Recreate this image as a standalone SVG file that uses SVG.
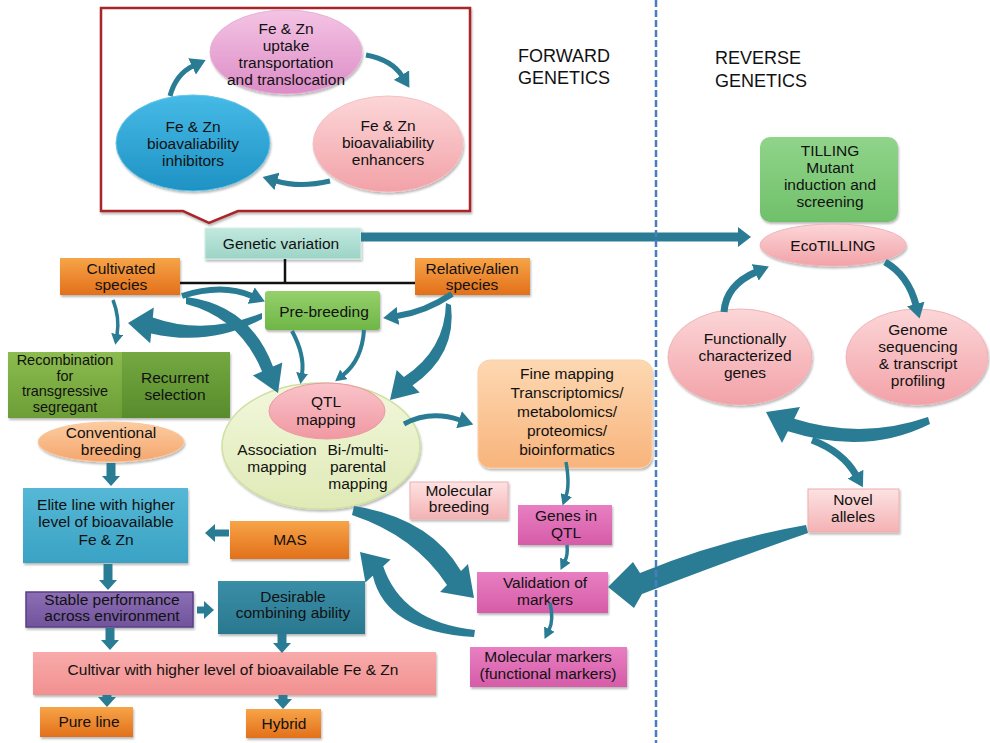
<svg xmlns="http://www.w3.org/2000/svg" width="990" height="743" viewBox="0 0 990 743">
<defs>
<style>
text{font-family:"Liberation Sans",Arial,Helvetica,sans-serif;font-size:15.5px;fill:#111;text-anchor:middle}
.hdr{font-size:18px;text-anchor:start}
.sm{font-size:14.5px}
.ar{fill:none;stroke:#2a7c94}
.af{fill:#2a7c94}
.blk{fill:none;stroke:#111;stroke-width:2.5}
.sh{filter:url(#sh)}
</style>
<filter id="sh" x="-10%" y="-10%" width="130%" height="140%"><feDropShadow dx="1" dy="2" stdDeviation="1.2" flood-color="#000" flood-opacity="0.28"/></filter>
<linearGradient id="gOr" x1="0" y1="0" x2="0" y2="1"><stop offset="0" stop-color="#f7a448"/><stop offset="1" stop-color="#e2701a"/></linearGradient>
<linearGradient id="gPre" x1="0" y1="0" x2="0" y2="1"><stop offset="0" stop-color="#96d06c"/><stop offset="1" stop-color="#6eb646"/></linearGradient>
<linearGradient id="gRecL" x1="0" y1="0" x2="0" y2="1"><stop offset="0" stop-color="#8cbc50"/><stop offset="1" stop-color="#6c9e36"/></linearGradient>
<linearGradient id="gRecR" x1="0" y1="0" x2="0" y2="1"><stop offset="0" stop-color="#74a840"/><stop offset="1" stop-color="#588c2c"/></linearGradient>
<linearGradient id="gFine" x1="0" y1="0" x2="0" y2="1"><stop offset="0" stop-color="#fdd8b2"/><stop offset="1" stop-color="#f8b47c"/></linearGradient>
<linearGradient id="gMag" x1="0" y1="0" x2="0" y2="1"><stop offset="0" stop-color="#e87fc2"/><stop offset="1" stop-color="#d65ca8"/></linearGradient>
<linearGradient id="gElite" x1="0" y1="0" x2="0" y2="1"><stop offset="0" stop-color="#56b8d6"/><stop offset="1" stop-color="#3aa2c4"/></linearGradient>
<linearGradient id="gStab" x1="0" y1="0" x2="0" y2="1"><stop offset="0" stop-color="#8c6eb4"/><stop offset="1" stop-color="#70549c"/></linearGradient>
<linearGradient id="gDes" x1="0" y1="0" x2="0" y2="1"><stop offset="0" stop-color="#3a8ea6"/><stop offset="1" stop-color="#2a7890"/></linearGradient>
<linearGradient id="gCult" x1="0" y1="0" x2="0" y2="1"><stop offset="0" stop-color="#f8aaaa"/><stop offset="1" stop-color="#f29090"/></linearGradient>
<linearGradient id="gTill" x1="0" y1="0" x2="0" y2="1"><stop offset="0" stop-color="#90d48a"/><stop offset="1" stop-color="#70c06a"/></linearGradient>
<linearGradient id="gPink" x1="0" y1="0" x2="0" y2="1"><stop offset="0" stop-color="#fcd6d8"/><stop offset="1" stop-color="#f2a2a8"/></linearGradient>
<linearGradient id="gTopPink" x1="0" y1="0" x2="0" y2="1"><stop offset="0" stop-color="#f4c4e4"/><stop offset="1" stop-color="#dc8cc6"/></linearGradient>
<linearGradient id="gBlue" x1="0" y1="0" x2="0" y2="1"><stop offset="0" stop-color="#46bae6"/><stop offset="1" stop-color="#1e92c4"/></linearGradient>
<linearGradient id="gConv" x1="0" y1="0" x2="0" y2="1"><stop offset="0" stop-color="#fccca0"/><stop offset="1" stop-color="#f4a66e"/></linearGradient>
<linearGradient id="gBig" x1="0" y1="0" x2="0" y2="1"><stop offset="0" stop-color="#f2f7dc"/><stop offset="1" stop-color="#dfeab6"/></linearGradient>
<linearGradient id="gQtl" x1="0" y1="0" x2="0" y2="1"><stop offset="0" stop-color="#fac4ca"/><stop offset="1" stop-color="#f098a2"/></linearGradient>
<linearGradient id="gLtPink" x1="0" y1="0" x2="0" y2="1"><stop offset="0" stop-color="#fde2e2"/><stop offset="1" stop-color="#f4b2b4"/></linearGradient>
<linearGradient id="gGen" x1="0" y1="0" x2="0" y2="1"><stop offset="0" stop-color="#c2e8de"/><stop offset="1" stop-color="#9cd4c6"/></linearGradient>
<marker id="aS" markerUnits="userSpaceOnUse" markerWidth="12" markerHeight="12" refX="1" refY="6" orient="auto"><path d="M0,0 L11,6 L0,12 z" fill="#2a7c94"/></marker>
<marker id="aM" markerUnits="userSpaceOnUse" markerWidth="16" markerHeight="18" refX="1" refY="9" orient="auto"><path d="M0,0 L15,9 L0,18 z" fill="#2a7c94"/></marker>
<marker id="aL" markerUnits="userSpaceOnUse" markerWidth="14" markerHeight="20" refX="1" refY="10" orient="auto"><path d="M0,0 L13,10 L0,20 z" fill="#2a7c94"/></marker>
<marker id="aB" markerUnits="userSpaceOnUse" markerWidth="11" markerHeight="20" refX="1" refY="10" orient="auto"><path d="M0,1 L10,10 L0,19 z" fill="#2a7c94"/></marker>
</defs>
<rect width="990" height="743" fill="#fff"/>

<g id="headers">
<text class="hdr" x="518" y="62">FORWARD</text>
<text class="hdr" x="518" y="84">GENETICS</text>
<text class="hdr" x="715" y="64">REVERSE</text>
<text class="hdr" x="715" y="87">GENETICS</text>
</g>

<g id="nutrient-box">
<path class="sh" d="M101,8 H470 V211 H238 L209,223 L183,211 H101 Z" fill="#fff" stroke="#a8272b" stroke-width="2.5"/>
</g>
<g id="uptake">
<ellipse class="sh" cx="286" cy="52" rx="76" ry="42" fill="url(#gTopPink)" stroke="#e6b0d6" stroke-width="1"/>
<text x="286" y="34">Fe &amp; Zn</text>
<text x="286" y="51">uptake</text>
<text x="286" y="68">transportation</text>
<text x="286" y="85">and translocation</text>
</g>
<g id="inhibitors">
<ellipse class="sh" cx="193" cy="143" rx="77" ry="48" fill="url(#gBlue)" stroke="#62c4e8" stroke-width="1"/>
<text x="193" y="132">Fe &amp; Zn</text>
<text x="193" y="149">bioavaliability</text>
<text x="193" y="166">inhibitors</text>
</g>
<g id="enhancers">
<ellipse class="sh" cx="388" cy="144" rx="75" ry="48" fill="url(#gPink)" stroke="#f4c0c0" stroke-width="1"/>
<text x="388" y="131">Fe &amp; Zn</text>
<text x="388" y="148">bioavaliability</text>
<text x="388" y="165">enhancers</text>
</g>

<g id="genetic-variation">
<rect class="sh" x="205" y="228" width="156" height="31" fill="url(#gGen)" stroke="#d4eee8" stroke-width="1"/>
<text x="281" y="249">Genetic variation</text>
</g>
<g id="cultivated">
<rect class="sh" x="60" y="258" width="120" height="37" fill="url(#gOr)"/>
<text x="121" y="274">Cultivated</text>
<text x="121" y="290">species</text>
</g>
<g id="relative">
<rect class="sh" x="415" y="258" width="115" height="37" fill="url(#gOr)"/>
<text x="472" y="274">Relative/alien</text>
<text x="472" y="290">species</text>
</g>
<g id="pre-breeding">
<rect class="sh" x="265" y="291" width="115" height="39" rx="3" fill="url(#gPre)"/>
<text x="324" y="317">Pre-breeding</text>
</g>
<g id="recombination">
<rect class="sh" x="8" y="352" width="114" height="66" fill="url(#gRecL)"/>
<text class="sm" x="65" y="365">Recombination</text>
<text class="sm" x="65" y="380.5">for</text>
<text class="sm" x="65" y="396">transgressive</text>
<text class="sm" x="65" y="411.5">segregant</text>
</g>
<g id="recurrent">
<rect class="sh" x="122" y="352" width="108" height="66" fill="url(#gRecR)"/>
<text x="175" y="383">Recurrent</text>
<text x="175" y="400">selection</text>
</g>
<g id="conventional">
<ellipse class="sh" cx="111" cy="442" rx="73" ry="20" fill="url(#gConv)" stroke="#f8c8a0" stroke-width="1"/>
<text x="111" y="438">Conventional</text>
<text x="111" y="455">breeding</text>
</g>
<g id="qtl-group">
<ellipse class="sh" cx="321" cy="446" rx="99" ry="63" fill="url(#gBig)" stroke="#cfe0a2" stroke-width="1.5"/>
<text x="277" y="455">Association</text>
<text x="277" y="472">mapping</text>
<text x="358" y="455">Bi-/multi-</text>
<text x="358" y="472">parental</text>
<text x="358" y="489">mapping</text>
</g>
<g id="qtl-mapping">
<ellipse cx="327" cy="411" rx="58" ry="28" fill="url(#gQtl)" stroke="#ec9aa2" stroke-width="1"/>
<text x="326" y="407">QTL</text>
<text x="326" y="425">mapping</text>
</g>
<g id="fine-mapping">
<rect class="sh" x="478" y="360" width="174" height="108" rx="12" fill="url(#gFine)" stroke="#fbd0a8" stroke-width="1"/>
<text x="567" y="379">Fine mapping</text>
<text x="567" y="398">Transcriptomics/</text>
<text x="567" y="417">metabolomics/</text>
<text x="567" y="436">proteomics/</text>
<text x="567" y="455">bioinformatics</text>
</g>
<g id="molecular-breeding">
<rect class="sh" x="410" y="482" width="98" height="37" fill="url(#gLtPink)" stroke="#eeb0b0" stroke-width="1"/>
<text x="459" y="496">Molecular</text>
<text x="459" y="512">breeding</text>
</g>
<g id="genes-in-qtl">
<rect class="sh" x="518" y="505" width="94" height="40" fill="url(#gMag)"/>
<text x="566" y="521">Genes in</text>
<text x="566" y="538">QTL</text>
</g>
<g id="validation">
<rect class="sh" x="477" y="572" width="131" height="41" fill="url(#gMag)"/>
<text x="545" y="588">Validation of</text>
<text x="545" y="605">markers</text>
</g>
<g id="molecular-markers">
<rect class="sh" x="470" y="647" width="157" height="40" fill="url(#gMag)"/>
<text x="548" y="662">Molecular markers</text>
<text x="548" y="679">(functional markers)</text>
</g>
<g id="elite">
<rect class="sh" x="23" y="488" width="165" height="75" fill="url(#gElite)"/>
<text x="106" y="510">Elite line with higher</text>
<text x="106" y="527">level of bioavailable</text>
<text x="106" y="545">Fe &amp; Zn</text>
</g>
<g id="mas">
<rect class="sh" x="230" y="521" width="119" height="38" fill="url(#gOr)"/>
<text x="290" y="545">MAS</text>
</g>
<g id="stable">
<rect class="sh" x="26" y="592" width="167" height="35" fill="url(#gStab)" stroke="#5a3f86" stroke-width="1.5"/>
<text x="112" y="605">Stable performance</text>
<text x="112" y="621">across environment</text>
</g>
<g id="desirable">
<rect class="sh" x="218" y="581" width="147" height="53" fill="url(#gDes)"/>
<text x="293" y="602">Desirable</text>
<text x="293" y="618">combining ability</text>
</g>
<g id="cultivar">
<rect class="sh" x="33" y="652" width="403" height="43" fill="url(#gCult)"/>
<text x="233" y="675">Cultivar with higher level of bioavailable Fe &amp; Zn</text>
</g>
<g id="pure-line">
<rect class="sh" x="40" y="707" width="93" height="30" fill="url(#gOr)"/>
<text x="89" y="727">Pure line</text>
</g>
<g id="hybrid">
<rect class="sh" x="246" y="709" width="75" height="29" fill="url(#gOr)"/>
<text x="284" y="729">Hybrid</text>
</g>

<g id="tilling">
<rect class="sh" x="760" y="137" width="138" height="85" rx="10" fill="url(#gTill)"/>
<text x="830" y="156">TILLING</text>
<text x="830" y="173">Mutant</text>
<text x="830" y="190">induction and</text>
<text x="830" y="207">screening</text>
</g>
<g id="ecotilling">
<ellipse class="sh" cx="833" cy="245" rx="73" ry="21" fill="url(#gPink)" stroke="#f0b4b8" stroke-width="1"/>
<text x="833" y="251">EcoTILLING</text>
</g>
<g id="functionally">
<ellipse class="sh" cx="740" cy="357" rx="72" ry="48" fill="url(#gPink)" stroke="#f0b4b8" stroke-width="1"/>
<text x="745" y="344">Functionally</text>
<text x="745" y="361">characterized</text>
<text x="745" y="378">genes</text>
</g>
<g id="genome">
<ellipse class="sh" cx="917" cy="357" rx="71" ry="48" fill="url(#gPink)" stroke="#f0b4b8" stroke-width="1"/>
<text x="918" y="335">Genome</text>
<text x="918" y="352">sequencing</text>
<text x="918" y="369">&amp; transcript</text>
<text x="918" y="386">profiling</text>
</g>
<g id="novel-alleles">
<rect class="sh" x="808" y="489" width="91" height="43" fill="url(#gLtPink)" stroke="#eeb0b0" stroke-width="1"/>
<text x="853" y="505">Novel</text>
<text x="853" y="522">alleles</text>
</g>

<g id="connectors">
<path class="ar" stroke-width="5" d="M170,96 Q176,74 193,66" marker-end="url(#aM)"/>
<path class="ar" stroke-width="5" d="M366,55 Q392,60 402,76" marker-end="url(#aM)"/>
<path class="ar" stroke-width="5" d="M330,181 Q300,188 276,181" marker-end="url(#aM)"/>
<path class="ar" stroke-width="9" d="M361,237 H739" marker-end="url(#aL)"/>
<path class="blk" d="M180,283 H415 M285,259 V283"/>
<path class="ar" stroke-width="3.5" d="M113,300 Q120,318 117,335" marker-end="url(#aS)"/>
<path class="ar" stroke-width="6" d="M182,296 Q222,283 252,296" marker-end="url(#aM)"/>
<path class="ar" stroke-width="4" d="M292,331 Q305,355 302,374" marker-end="url(#aS)"/>
<path class="ar" stroke-width="4" d="M364,330 Q362,360 343,375" marker-end="url(#aS)"/>
<path class="ar" stroke-width="6" d="M452,294 Q425,312 397,316" marker-end="url(#aM)"/>
<path class="ar" stroke-width="5" d="M404,424 Q430,410 460,420" marker-end="url(#aM)"/>
<path class="ar" stroke-width="3.5" d="M566,462 Q570,485 566,496" marker-end="url(#aS)"/>
<path class="ar" stroke-width="3.5" d="M567,545 Q568,555 565,561" marker-end="url(#aS)"/>
<path class="ar" stroke-width="3.5" d="M550,603 Q554,620 549,630" marker-end="url(#aS)"/>
<path class="ar" stroke-width="7" d="M724,312 Q726,285 756,272" marker-end="url(#aM)"/>
<path class="ar" stroke-width="7" d="M885,262 Q908,275 916,305" marker-end="url(#aM)"/>
<path class="ar" stroke-width="7" d="M812,440 Q843,452 856,475" marker-end="url(#aM)"/>
<path class="ar" stroke-width="9" d="M111,463 V477" marker-end="url(#aB)"/>
<path class="ar" stroke-width="9" d="M108,564 V581" marker-end="url(#aB)"/>
<path class="ar" stroke-width="7" d="M197,610 H205" marker-end="url(#aB)"/>
<path class="ar" stroke-width="7" d="M229,533 H214" marker-end="url(#aB)"/>
<path class="ar" stroke-width="9" d="M110,628 V641" marker-end="url(#aB)"/>
<path class="ar" stroke-width="9" d="M282,634 V644" marker-end="url(#aB)"/>
<path class="ar" stroke-width="9" d="M107,695 V698" marker-end="url(#aB)"/>
<path class="ar" stroke-width="9" d="M283,695 V700" marker-end="url(#aB)"/>
<path class="af" d="M262,313 Q205,336 152.8,317.4 L153.8,307.5 L128,323 L150.2,343.3 L151.2,333.4 Q210,347 262,319 Z"/>
<path class="af" d="M186,297 Q250,305 273,366.6 L282.3,362.6 L278,393 L252.9,375.4 L262.1,371.4 Q240,318 186,304 Z"/>
<path class="af" d="M446,303 Q445,350 403.9,377.1 L396.7,370.1 L390,400 L419.7,392.5 L412.5,385.5 Q457,355 451,305 Z"/>
<path class="af" d="M354,506 Q430,518 461,571 L468,564 L474,598 L440,592 L447,585 Q415,536 352,515 Z"/>
<path class="af" d="M475,630 Q402,622 383.2,566.2 L390.6,559.4 L360,552 L365.4,582.6 L372.8,575.8 Q386,632 474,637 Z"/>
<path class="af" d="M806,525 Q720,540 640,573 L633,562 L608,587 L634,608 L642,594 Q730,560 808,533 Z"/>
<path class="af" d="M928,417 Q862,440 794.2,418.7 L800,407 L766,412 L782,443 L787.9,431.3 Q866,456 930,424 Z"/>
</g>

<g id="divider">
<line x1="656" y1="0" x2="656" y2="743" stroke="#4a7cc2" stroke-width="2.5" stroke-dasharray="7 3"/>
</g>
</svg>
